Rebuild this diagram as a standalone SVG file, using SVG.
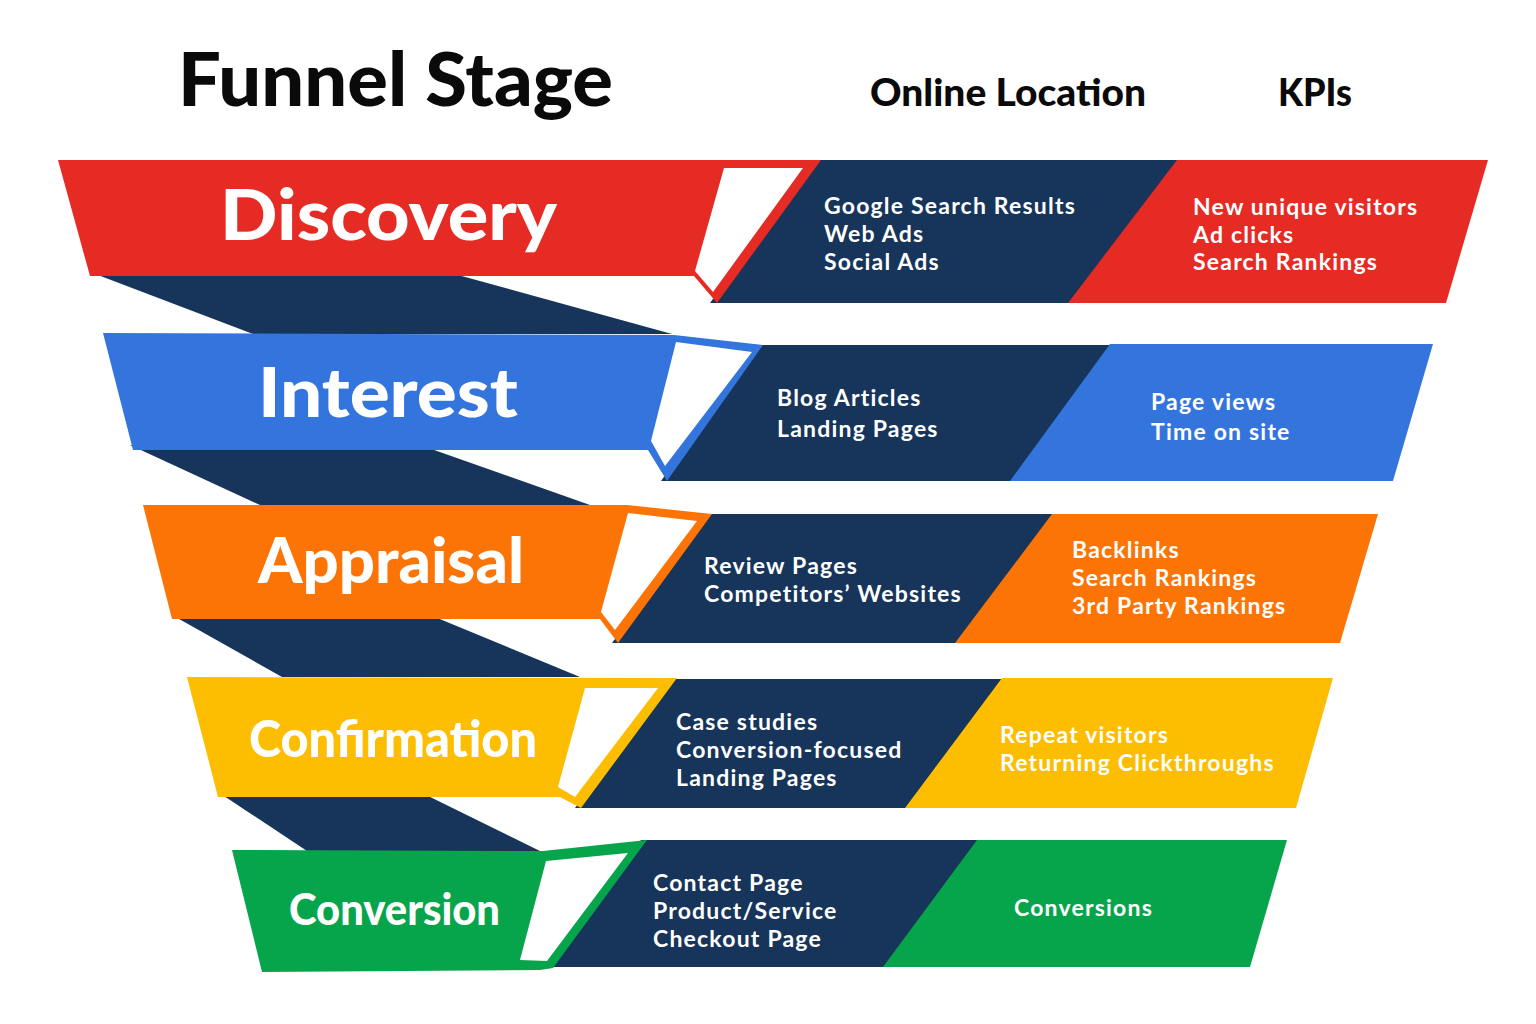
<svg xmlns="http://www.w3.org/2000/svg" width="1536" height="1024" viewBox="0 0 1536 1024">
<defs>
<style>
.navy{fill:#17355A}
.red{fill:#E62A24}
.blue{fill:#3375DC}
.orange{fill:#FC7405}
.yellow{fill:#FDBD00}
.green{fill:#07A54B}
.fold{fill:#FFFFFF}
.head{font-family:Lato,"Liberation Sans",Arial,sans-serif;font-weight:900;fill:#0A0A0A}
.stage{font-family:Lato,"Liberation Sans",Arial,sans-serif;font-weight:900;fill:#FFFFFF}
.body{font-family:Lato,"Liberation Sans",sans-serif;font-weight:700;font-size:23px;letter-spacing:1.2px;fill:#FFFFFF}
</style>
</defs>
<rect x="0" y="0" width="1536" height="1024" fill="#FFFFFF"/>

<g id="headers">
<text class="head" x="178" y="106" font-size="74" textLength="435" lengthAdjust="spacingAndGlyphs">Funnel Stage</text>
<text class="head" x="870" y="106" font-size="38" textLength="276" lengthAdjust="spacingAndGlyphs">Online Location</text>
<text class="head" x="1278" y="106" font-size="38" textLength="74" lengthAdjust="spacingAndGlyphs">KPIs</text>
</g>

<g id="connectors">
<polygon class="navy" points="90,272 447,272 672,334 253,334"/>
<polygon class="navy" points="130,445 420,445 590,505 260,505"/>
<polygon class="navy" points="172,615 430,615 580,677 282,677"/>
<polygon class="navy" points="218,792 420,792 540,851 307,851"/>
</g>

<g id="discovery">
<polygon class="navy" points="814,160 1180,160 1071,303 710,303"/>
<polygon class="red" points="1177,160 1488,160 1446,303 1068,303"/>
<polygon class="red" points="58,160 821,160 717,303 694,276 90,276"/>
<polygon class="fold" points="724,168 803,168 713,292 695,271"/>
<text class="stage" x="220" y="240" font-size="70" textLength="337" lengthAdjust="spacingAndGlyphs">Discovery</text>
<text class="body" x="824" y="214">Google Search Results</text>
<text class="body" x="824" y="242">Web Ads</text>
<text class="body" x="824" y="270">Social Ads</text>
<text class="body" x="1193" y="215">New unique visitors</text>
<text class="body" x="1193" y="243">Ad clicks</text>
<text class="body" x="1193" y="270">Search Rankings</text>
</g>

<g id="interest">
<polygon class="navy" points="757,345 1113,345 1013,481 661,481"/>
<polygon class="blue" points="1110,344 1433,344 1393,481 1010,481"/>
<polygon class="blue" points="103,333 674,335 763,345 667,481 648,450 133,450"/>
<polygon class="fold" points="676,342 752,352 665,466 651,441"/>
<text class="stage" x="258" y="417" font-size="68" textLength="260" lengthAdjust="spacingAndGlyphs">Interest</text>
<text class="body" x="777" y="406">Blog Articles</text>
<text class="body" x="777" y="437">Landing Pages</text>
<text class="body" x="1151" y="410">Page views</text>
<text class="body" x="1151" y="440">Time on site</text>
</g>

<g id="appraisal">
<polygon class="navy" points="706,514 1055,514 958,643 612,643"/>
<polygon class="orange" points="1052,514 1378,514 1340,643 955,643"/>
<polygon class="orange" points="143,505 627,505 712,514 618,643 600,619 172,619"/>
<polygon class="fold" points="628,513 697,521 615,630 601,612"/>
<text class="stage" x="258" y="583" font-size="63" textLength="266" lengthAdjust="spacingAndGlyphs">Appraisal</text>
<text class="body" x="704" y="574">Review Pages</text>
<text class="body" x="704" y="602">Competitors’ Websites</text>
<text class="body" x="1072" y="558">Backlinks</text>
<text class="body" x="1072" y="586">Search Rankings</text>
<text class="body" x="1072" y="614">3rd Party Rankings</text>
</g>

<g id="confirmation">
<polygon class="navy" points="671,679 1005,679 908,808 575,808"/>
<polygon class="yellow" points="1002,678 1333,678 1296,808 905,808"/>
<polygon class="yellow" points="187,677 677,678 581,808 560,797 218,797"/>
<polygon class="fold" points="585,688 658,688 575,797 558,787"/>
<text class="stage" x="249" y="757" font-size="52" textLength="288" lengthAdjust="spacingAndGlyphs">Confirmation</text>
<text class="body" x="676" y="730">Case studies</text>
<text class="body" x="676" y="758">Conversion-focused</text>
<text class="body" x="676" y="786">Landing Pages</text>
<text class="body" x="1000" y="743">Repeat visitors</text>
<text class="body" x="1000" y="771">Returning Clickthroughs</text>
</g>

<g id="conversion">
<polygon class="navy" points="641,840 980,840 886,967 547,967"/>
<polygon class="green" points="977,840 1287,840 1250,967 883,967"/>
<polygon class="green" points="232,850 543,851 647,840 553,968 540,970 262,972"/>
<polygon class="fold" points="546,861 628,853 547,961 520,960"/>
<text class="stage" x="289" y="925" font-size="43" textLength="211" lengthAdjust="spacingAndGlyphs">Conversion</text>
<text class="body" x="653" y="891">Contact Page</text>
<text class="body" x="653" y="919">Product/Service</text>
<text class="body" x="653" y="947">Checkout Page</text>
<text class="body" x="1014" y="916">Conversions</text>
</g>
</svg>
